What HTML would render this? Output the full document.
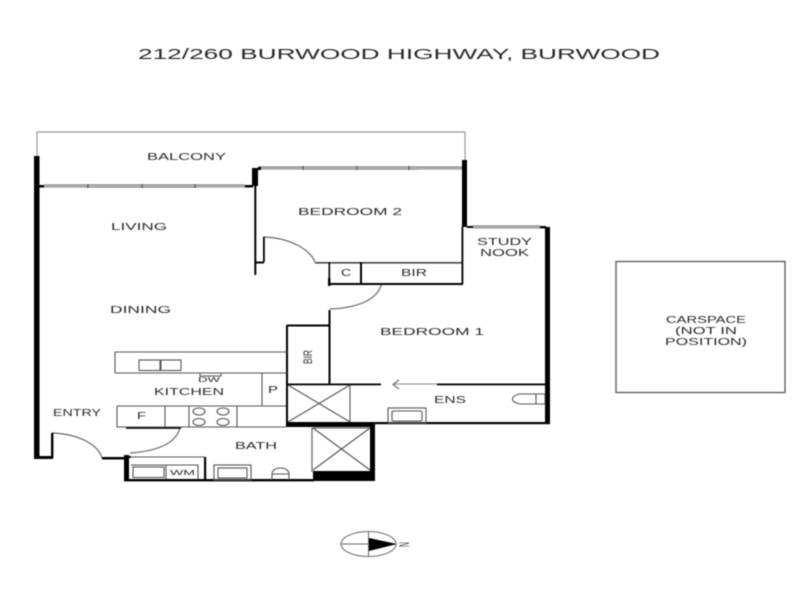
<!DOCTYPE html>
<html><head><meta charset="utf-8"><style>
html,body{margin:0;padding:0;background:#fff}
svg{display:block}
text{font-family:"Liberation Sans",sans-serif;fill:#2a2a2a}
</style></head><body>
<svg width="800" height="600" viewBox="0 0 800 600" xmlns="http://www.w3.org/2000/svg">
<rect width="800" height="600" fill="#fff"/>
<g style="filter:blur(0.5px)">
<g fill="none" stroke="#888" stroke-width="1.2">
<path d="M37 156V132H465V160" stroke="#999"/>
<path d="M44 185H245M44 187H245M258 167H462M258 169H462M473 226H540M473 228H540" stroke="#777"/>
<path d="M88 184v4M142 184v4M195 184v4M303 166v4M357 166v4M409 166v4" stroke="#555"/>
<path d="M263 237C292 238 310 250 315 262M381 285C378 298 360 308 330 309M52 433C78 434 98 444 102 458M180 428C176 442 160 451 130 453" stroke="#666"/>
</g>
<g fill="#aaa"><rect x="44" y="185" width="43" height="2.4"/><rect x="197" y="185" width="48" height="2.4"/><rect x="258" y="167" width="44" height="2.4"/><rect x="417" y="167" width="45" height="2.4"/><rect x="473" y="226" width="67" height="2.4"/></g>
<g fill="#000">
<rect x="34" y="156" width="5.5" height="303"/><rect x="39" y="185" width="5" height="2.5"/>
<rect x="34" y="456" width="19" height="3"/><rect x="51" y="433" width="2.4" height="25"/>
<rect x="102" y="457" width="25" height="2.5"/>
<rect x="252" y="168" width="6" height="18"/><rect x="245" y="185" width="8" height="2.5"/><rect x="258" y="167" width="3" height="3"/>
<rect x="254.3" y="186" width="2" height="89"/><rect x="256" y="261.5" width="8" height="2"/><rect x="263" y="237" width="1.8" height="25"/>
<rect x="462" y="160" width="5" height="67"/><rect x="467" y="226" width="6" height="2"/><rect x="540" y="226" width="6" height="2.4"/>
<rect x="545" y="227" width="5" height="196"/>
<rect x="315" y="262" width="148" height="1.6" fill="#444"/>
<rect x="328.5" y="262" width="1.6" height="23"/><rect x="360" y="262" width="2" height="22"/>
<rect x="461.5" y="227" width="1.8" height="57"/><rect x="329" y="283" width="134" height="2"/>
<rect x="328" y="278" width="2.4" height="8"/>
<rect x="328.5" y="310" width="2" height="75"/><rect x="287" y="324.5" width="43" height="2"/>
<rect x="286" y="325" width="2" height="102"/>
<rect x="287" y="383.5" width="94" height="1.8"/><rect x="437" y="383.5" width="109" height="1.8"/>
<rect x="286" y="422" width="89" height="5"/><rect x="375" y="422" width="175" height="2.2"/>
<rect x="370" y="423" width="5" height="58"/><rect x="313" y="471" width="62" height="10"/>
<rect x="124" y="479" width="190" height="2.4"/><rect x="124" y="455" width="5" height="26"/>
<rect x="204" y="457" width="2.2" height="23"/><rect x="127" y="456" width="4" height="2"/>
<rect x="126" y="427" width="55" height="1.8"/>
</g>
<g fill="none" stroke="#555" stroke-width="1.1">
<path d="M393 384H437" stroke="#888"/><path d="M399 380L393 384.5L399 389" stroke="#666"/>
<path d="M288 385L350 422M350 385L288 422M350 385V422"/>
<path d="M312 428H370M312 428V472M313 470L370 428M313 428L370 470" />
<path d="M115 373V352H287M115 373H287"/>
<rect x="139" y="360" width="21" height="10.500"/><rect x="161" y="360" width="20" height="10.500"/>
<path d="M200 373v3h21v-3"/>
<path d="M262 373V406M117 406H286M117 406V427H286M165 406V427M189 406V427M237 406V427"/>
<ellipse cx="199" cy="411.500" rx="6" ry="3.500"/><ellipse cx="199" cy="422" rx="6" ry="3.500"/><ellipse cx="223" cy="411.500" rx="6" ry="3.500"/><ellipse cx="223" cy="422" rx="6" ry="3.500"/>
<path d="M130 457H205"/>
<path d="M131 465H198V479M166 465V479"/><rect x="133" y="467" width="31" height="10.500"/>
<rect x="214" y="465" width="37" height="15"/><rect x="218" y="468" width="29" height="10"/>
<path d="M272 480V474C272 466 289 466 289 474V480M272 474H289"/>
<rect x="388" y="408" width="38" height="15"/><rect x="392" y="411" width="30" height="10" rx="1.500"/>
<path d="M536 394H520C510 396 510 402 520 404H536ZM536 394H545V404H536"/>
</g>
<rect x="616" y="261.500" width="169" height="131" fill="none" stroke="#555" stroke-width="1.3"/>
<g fill="none" stroke="#666" stroke-width="1">
<ellipse cx="368.500" cy="544" rx="27.500" ry="12.500"/><path d="M341 544H395M368.500 531V557"/>
</g>
<path d="M369 538L397 544L369 551Z" fill="#000"/>
<text x="138" y="59" font-size="15" textLength="522" lengthAdjust="spacingAndGlyphs" fill="#111">212/260 BURWOOD HIGHWAY, BURWOOD</text>
<g font-size="10">
<text x="147" y="160" textLength="79" lengthAdjust="spacingAndGlyphs">BALCONY</text>
<text x="111" y="230" textLength="56" lengthAdjust="spacingAndGlyphs">LIVING</text>
<text x="110" y="313" textLength="61" lengthAdjust="spacingAndGlyphs">DINING</text>
<text x="298" y="215" textLength="104" lengthAdjust="spacingAndGlyphs">BEDROOM 2</text>
<text x="380" y="335" textLength="104" lengthAdjust="spacingAndGlyphs">BEDROOM 1</text>
<text x="477" y="245" textLength="55" lengthAdjust="spacingAndGlyphs">STUDY</text>
<text x="480" y="256" textLength="49" lengthAdjust="spacingAndGlyphs">NOOK</text>
<text x="341" y="276" textLength="10" lengthAdjust="spacingAndGlyphs">C</text>
<text x="401" y="276" textLength="26" lengthAdjust="spacingAndGlyphs">BIR</text>
<text x="154" y="395" textLength="70" lengthAdjust="spacingAndGlyphs">KITCHEN</text>
<text x="53" y="416" textLength="48" lengthAdjust="spacingAndGlyphs">ENTRY</text>
<text x="235" y="449" textLength="42" lengthAdjust="spacingAndGlyphs">BATH</text>
<text x="434" y="403" textLength="32" lengthAdjust="spacingAndGlyphs">ENS</text>
<text x="268" y="393" textLength="10" lengthAdjust="spacingAndGlyphs">P</text>
<text x="137" y="419" textLength="9" lengthAdjust="spacingAndGlyphs">F</text>
<text transform="translate(312,364) rotate(-90)" font-size="12" textLength="14" lengthAdjust="spacingAndGlyphs">BIR</text>
<text x="170" y="475" font-size="7.500" textLength="25" lengthAdjust="spacingAndGlyphs">WM</text>
<text x="198" y="382" font-size="7" textLength="22" lengthAdjust="spacingAndGlyphs">DW</text>
<text x="666" y="323" font-size="10" textLength="80" lengthAdjust="spacingAndGlyphs">CARSPACE</text>
<text x="675" y="334" font-size="10" textLength="62" lengthAdjust="spacingAndGlyphs">(NOT IN</text>
<text x="665" y="345" font-size="10" textLength="82" lengthAdjust="spacingAndGlyphs">POSITION)</text>
<text transform="translate(399,542) rotate(90)" font-size="15" textLength="5" lengthAdjust="spacingAndGlyphs">N</text>
</g>
</g>
</svg>
</body></html>
